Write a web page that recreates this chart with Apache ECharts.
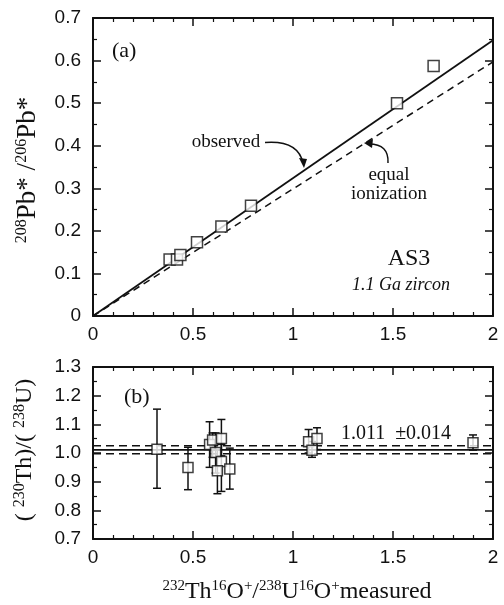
<!DOCTYPE html>
<html><head><meta charset="utf-8">
<script src="https://cdn.jsdelivr.net/npm/echarts@6/dist/echarts.min.js"></script>
<style>html,body{margin:0;padding:0;background:#fff}#c{width:504px;height:605px}</style>
</head><body><div id="c"></div>
<script>
// ---- data ----
const xTicks = [0, 0.5, 1, 1.5, 2];
const pbX = [0.383, 0.42, 0.437, 0.52, 0.642, 0.79, 1.52, 1.703];
const pbY = [0.133, 0.133, 0.143, 0.173, 0.21, 0.259, 0.50, 0.587];
const observedLine = [[0, 0], [2, 0.648]];
const equalLine = [[0, 0], [2, 0.597]];

const thX  = [0.32, 0.475, 0.583, 0.598, 0.642, 0.613, 0.642, 0.622, 0.684, 1.078, 1.095, 1.12, 1.90];
const thY  = [1.013, 0.949, 1.030, 1.045, 1.051, 1.002, 0.970, 0.938, 0.944, 1.039, 1.010, 1.051, 1.036];
const thLo = [0.877, 0.872, 0.950, 0.985, 0.990, 0.930, 0.866, 0.858, 0.874, 1.000, 0.985, 1.012, 1.010];
const thHi = [1.153, 1.020, 1.109, 1.070, 1.117, 1.070, 1.030, 1.010, 1.017, 1.082, 1.040, 1.088, 1.063];
const meanVal = 1.011;
const meanErr = 0.014;

const SANS = 'Liberation Sans';
const SERIF = 'Liberation Serif';
const BLACK = '#111';

function axisX(grid, pos, labels) {
  return {
    type: 'value', gridIndex: grid, position: pos, min: 0, max: 2, interval: 0.5,
    axisLine: { show: true, onZero: false, lineStyle: { color: BLACK, width: 2 } },
    axisTick: { show: true, inside: true, length: 8, lineStyle: { color: BLACK, width: 1.5 } },
    minorTick: { show: true, splitNumber: 5, length: 4, lineStyle: { color: BLACK, width: 1.2 } },
    splitLine: { show: false },
    axisLabel: { show: labels, color: BLACK, fontFamily: SANS, fontSize: 19, margin: 9 }
  };
}
function axisY(grid, pos, labels, min, max, fmt) {
  return {
    type: 'value', gridIndex: grid, position: pos, min: min, max: max, interval: 0.1,
    axisLine: { show: true, onZero: false, lineStyle: { color: BLACK, width: 2 } },
    axisTick: { show: true, inside: true, length: 8, lineStyle: { color: BLACK, width: 1.5 } },
    minorTick: { show: true, splitNumber: 2, length: 4, lineStyle: { color: BLACK, width: 1.2 } },
    splitLine: { show: false },
    axisLabel: { show: labels, color: BLACK, fontFamily: SANS, fontSize: 19, margin: 12, formatter: fmt }
  };
}

const sq = { color: '#fff', borderColor: BLACK, borderWidth: 1.5 };

const option = {
  backgroundColor: '#fff',
  animation: false,
  grid: [
    { left: 93, top: 18, width: 400, height: 298 },
    { left: 93, top: 367, width: 400, height: 172 }
  ],
  xAxis: [axisX(0, 'bottom', true), axisX(0, 'top', false), axisX(1, 'bottom', true), axisX(1, 'top', false)],
  yAxis: [
    axisY(0, 'left', true, 0, 0.7, v => String(+v.toFixed(1))),
    axisY(0, 'right', false, 0, 0.7),
    axisY(1, 'left', true, 0.7, 1.3, v => v.toFixed(1)),
    axisY(1, 'right', false, 0.7, 1.3)
  ],
  series: [
    { type: 'line', xAxisIndex: 0, yAxisIndex: 0, data: equalLine, symbol: 'none',
      lineStyle: { color: BLACK, width: 1.5, type: [7, 5] } },
    { type: 'line', xAxisIndex: 0, yAxisIndex: 0, data: observedLine, symbol: 'none',
      lineStyle: { color: BLACK, width: 1.8 } },
    { type: 'scatter', xAxisIndex: 0, yAxisIndex: 0, symbol: 'rect', symbolSize: 11,
      data: pbX.map((x, i) => [x, pbY[i]]), itemStyle: sq, z: 5 },
    { type: 'line', xAxisIndex: 2, yAxisIndex: 2, data: [[0, meanVal], [2, meanVal]], symbol: 'none',
      lineStyle: { color: BLACK, width: 1.8 } },
    { type: 'line', xAxisIndex: 2, yAxisIndex: 2, data: [[0, meanVal + meanErr], [2, meanVal + meanErr]], symbol: 'none',
      lineStyle: { color: BLACK, width: 1.5, type: [8, 5] } },
    { type: 'line', xAxisIndex: 2, yAxisIndex: 2, data: [[0, meanVal - meanErr], [2, meanVal - meanErr]], symbol: 'none',
      lineStyle: { color: BLACK, width: 1.5, type: [8, 5] } },
    { type: 'custom', xAxisIndex: 2, yAxisIndex: 2, z: 4,
      data: thX.map((x, i) => [x, thLo[i], thHi[i]]),
      renderItem: function (params, api) {
        const x = api.value(0);
        const p1 = api.coord([x, api.value(1)]);
        const p2 = api.coord([x, api.value(2)]);
        const w = 4;
        const st = { stroke: BLACK, lineWidth: 1.5 };
        return { type: 'group', children: [
          { type: 'line', shape: { x1: p1[0], y1: p1[1], x2: p2[0], y2: p2[1] }, style: st },
          { type: 'line', shape: { x1: p1[0] - w, y1: p1[1], x2: p1[0] + w, y2: p1[1] }, style: st },
          { type: 'line', shape: { x1: p2[0] - w, y1: p2[1], x2: p2[0] + w, y2: p2[1] }, style: st }
        ] };
      }
    },
    { type: 'scatter', xAxisIndex: 2, yAxisIndex: 2, symbol: 'rect', symbolSize: 10,
      data: thX.map((x, i) => [x, thY[i]]), itemStyle: sq, z: 5 }
  ],
  graphic: [
    { type: 'text', left: 112, top: 40, style: { text: '(a)', font: '22px ' + SERIF, fill: BLACK } },
    { type: 'text', left: 124, top: 386, style: { text: '(b)', font: '22px ' + SERIF, fill: BLACK } },
    { type: 'text', x: 226, y: 142, style: { text: 'observed', font: '19px ' + SERIF, fill: BLACK, textAlign: 'center', textVerticalAlign: 'middle' } },
    { type: 'text', x: 389, y: 175, style: { text: 'equal', font: '19px ' + SERIF, fill: BLACK, textAlign: 'center', textVerticalAlign: 'middle' } },
    { type: 'text', x: 389, y: 194, style: { text: 'ionization', font: '19px ' + SERIF, fill: BLACK, textAlign: 'center', textVerticalAlign: 'middle' } },
    { type: 'text', x: 409, y: 259, style: { text: 'AS3', font: '24px ' + SERIF, fill: BLACK, textAlign: 'center', textVerticalAlign: 'middle' } },
    { type: 'text', x: 401, y: 285, style: { text: '1.1 Ga zircon', font: 'italic 18px ' + SERIF, fill: BLACK, textAlign: 'center', textVerticalAlign: 'middle' } },
    { type: 'text', x: 396, y: 434, style: { text: '1.011  \u00b10.014', font: '20px ' + SERIF, fill: BLACK, textAlign: 'center', textVerticalAlign: 'middle' } },
    // arrows
    { type: 'bezierCurve', shape: { x1: 265, y1: 142.5, x2: 303, y2: 163, cpx1: 298, cpy1: 140 },
      style: { stroke: BLACK, lineWidth: 1.5, fill: 'none' } },
    { type: 'polygon', shape: { points: [[304, 168], [299, 158], [307, 159]] }, style: { fill: BLACK } },
    { type: 'bezierCurve', shape: { x1: 388, y1: 163, x2: 369, y2: 144, cpx1: 389, cpy1: 144 },
      style: { stroke: BLACK, lineWidth: 1.5, fill: 'none' } },
    { type: 'polygon', shape: { points: [[364, 143], [373, 139], [372, 148]] }, style: { fill: BLACK } },
    // axis titles
    { type: 'text', x: 28, y: 170, rotation: Math.PI / 2,
      style: { text: '{s|208}{b|Pb* /}{s|206}{b|Pb*}', textAlign: 'center', textVerticalAlign: 'middle', fill: BLACK,
        rich: { s: { fontFamily: SERIF, fontSize: 16, verticalAlign: 'top', lineHeight: 14, fill: BLACK },
                b: { fontFamily: SERIF, fontSize: 27, lineHeight: 28, fill: BLACK } } } },
    { type: 'text', x: 25, y: 450, rotation: Math.PI / 2,
      style: { text: '{b|( }{s|230}{b|Th)/( }{s|238}{b|U)}', textAlign: 'center', textVerticalAlign: 'middle', fill: BLACK,
        rich: { s: { fontFamily: SERIF, fontSize: 16, verticalAlign: 'top', lineHeight: 14, fill: BLACK },
                b: { fontFamily: SERIF, fontSize: 24, lineHeight: 26, fill: BLACK } } } },
    { type: 'text', x: 297, y: 592,
      style: { text: '{s|232}{b|Th}{s|16}{b|O}{s|+}{b|/}{s|238}{b|U}{s|16}{b|O}{s|+}{b|measured}', textAlign: 'center', textVerticalAlign: 'middle', fill: BLACK,
        rich: { s: { fontFamily: SERIF, fontSize: 15, verticalAlign: 'top', lineHeight: 14, fill: BLACK },
                b: { fontFamily: SERIF, fontSize: 24, lineHeight: 26, fill: BLACK } } } }
  ]
};
const chart = echarts.init(document.getElementById('c'), null, { renderer: 'canvas' });
chart.setOption(option);
</script></body></html>
